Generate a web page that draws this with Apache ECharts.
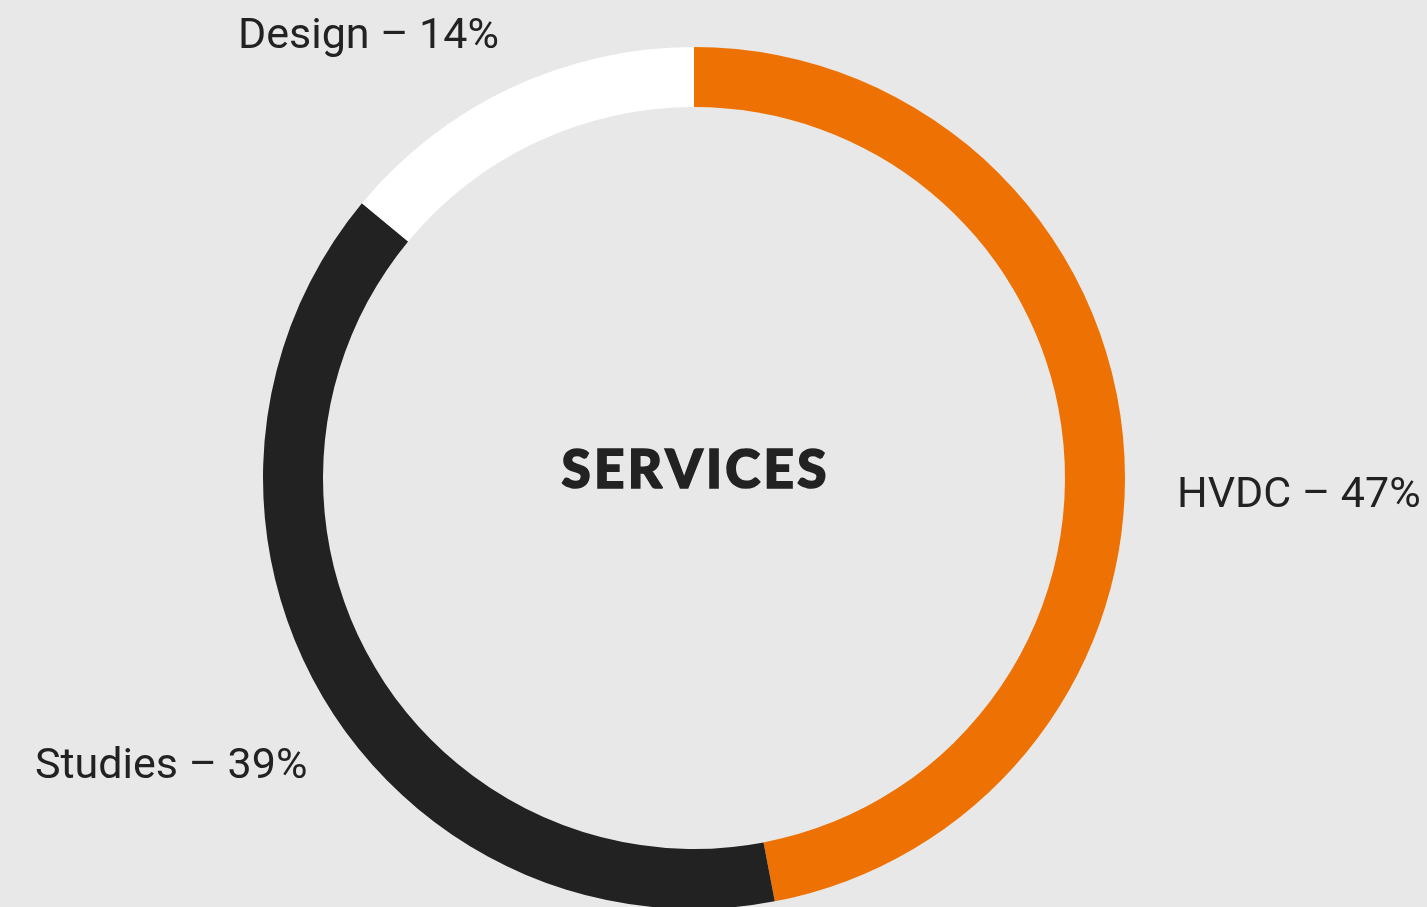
<!DOCTYPE html>
<html>
<head>
<meta charset="utf-8">
<script src="https://cdn.jsdelivr.net/npm/echarts@6/dist/echarts.min.js"></script>
<style>
html,body{margin:0;padding:0;background:#e8e8e8;}
#chart{width:1427px;height:907px;}
</style>
</head>
<body>
<div id="chart"></div>
<script>
const categories = ['HVDC', 'Studies', 'Design'];
const shares = [47, 39, 14];
const colors = ['#ee7203', '#222222', '#ffffff'];
const centerTitle = 'SERVICES';

const labelSpots = [
  {x: 1177, y: 496},
  {x: 35, y: 767},
  {x: 238, y: 37}
];

const chart = echarts.init(document.getElementById('chart'), null, {renderer: 'canvas'});
chart.setOption({
  backgroundColor: '#e8e8e8',
  animation: false,
  graphic: [{
    type: 'text',
    x: 694,
    y: 471,
    style: {
      text: centerTitle.split('').join('\u200A'),
      font: '900 53px Lato',
      fill: '#222222',
      stroke: '#222222',
      lineWidth: 1.6,
      align: 'center',
      verticalAlign: 'middle'
    }
  }],
  series: [{
    type: 'pie',
    center: [694, 478],
    radius: [371, 431],
    startAngle: 90,
    clockwise: true,
    silent: true,
    data: categories.map((c, i) => ({name: c, value: shares[i], itemStyle: {color: colors[i]}})),
    label: {
      show: true,
      position: 'outside',
      formatter: p => p.name + ' \u2013 ' + p.value + '%',
      fontFamily: 'Roboto',
      fontSize: 43,
      color: '#222222',
      overflow: 'none',
      width: 600
    },
    labelLine: {show: false},
    labelLayout: function (params) {
      const s = labelSpots[params.dataIndex];
      return {x: s.x, y: s.y, align: 'left', verticalAlign: 'middle'};
    }
  }]
});
</script>
</body>
</html>
